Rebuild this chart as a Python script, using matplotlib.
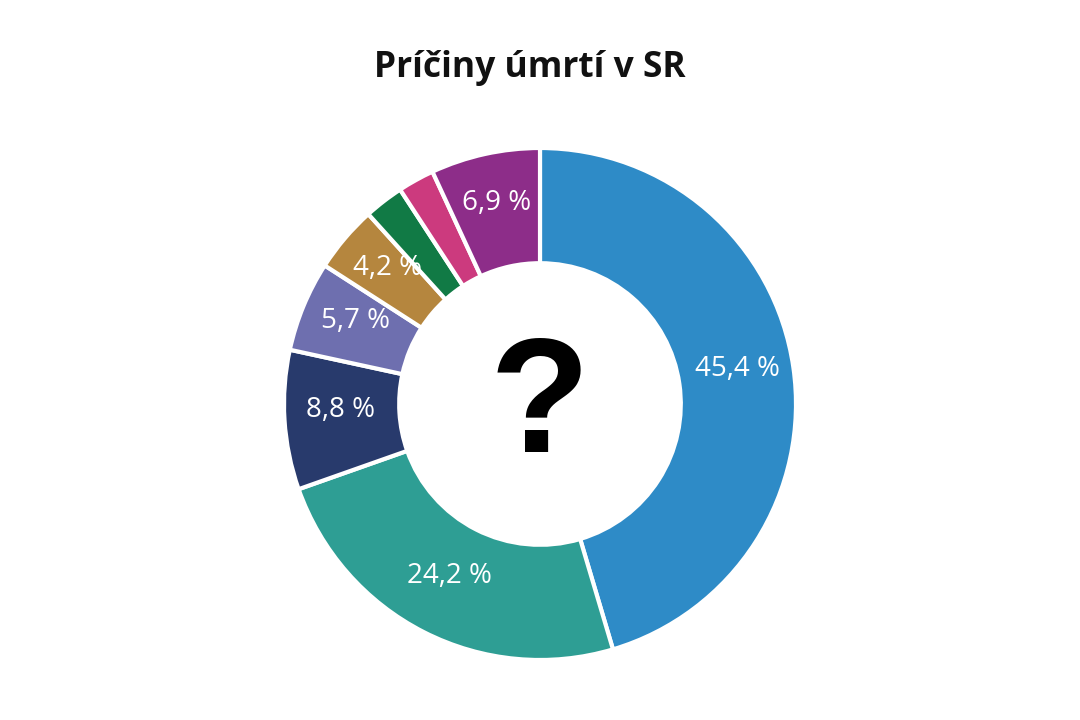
import math
import matplotlib.pyplot as plt

# hodnoty v percentach, v smere hodinovych ruciciek od vrchu
values = [45.4, 24.2, 8.8, 5.7, 4.2, 2.5, 2.3, 6.9]
labels = ['45,4 %', '24,2 %', '8,8 %', '5,7 %', '4,2 %', '', '', '6,9 %']
colors = ['#2E8BC7', '#2E9E94', '#283A6C', '#6E6FAF', '#B5863E',
          '#117A45', '#CC3A7E', '#8D2D89']

fig = plt.figure(figsize=(10.8, 7.2), dpi=100)

cx, cy, r = 540, 404, 256
ax = fig.add_axes([(cx - r) / 1080, (720 - cy - r) / 720, 2 * r / 1080, 2 * r / 720])

wedges, texts = ax.pie(values, colors=colors, startangle=90, counterclock=False,
                       radius=1, wedgeprops=dict(width=0.45, edgecolor='white', linewidth=3))

for w, lab in zip(wedges, labels):
    if not lab:
        continue
    ang = math.radians((w.theta1 + w.theta2) / 2)
    ax.text(0.78 * math.cos(ang), 0.78 * math.sin(ang) + 0.025, lab,
            ha='center', va='center', color='white', fontsize=20,
            family='Open Sans')

ax.text(0, -0.02, '?', ha='center', va='center', fontsize=118,
        fontweight='heavy', family='Liberation Sans', color='black')

ax.set_xlim(-1, 1)
ax.set_ylim(-1, 1)
ax.set_aspect('equal')
ax.axis('off')

fig.text(530 / 1080, 1 - 68 / 720, 'Príčiny úmrtí v SR', ha='center', va='center',
         fontsize=25.5, fontweight='bold', family='Open Sans', color='#111111')

fig.savefig('out.png', dpi=100, facecolor='white')
